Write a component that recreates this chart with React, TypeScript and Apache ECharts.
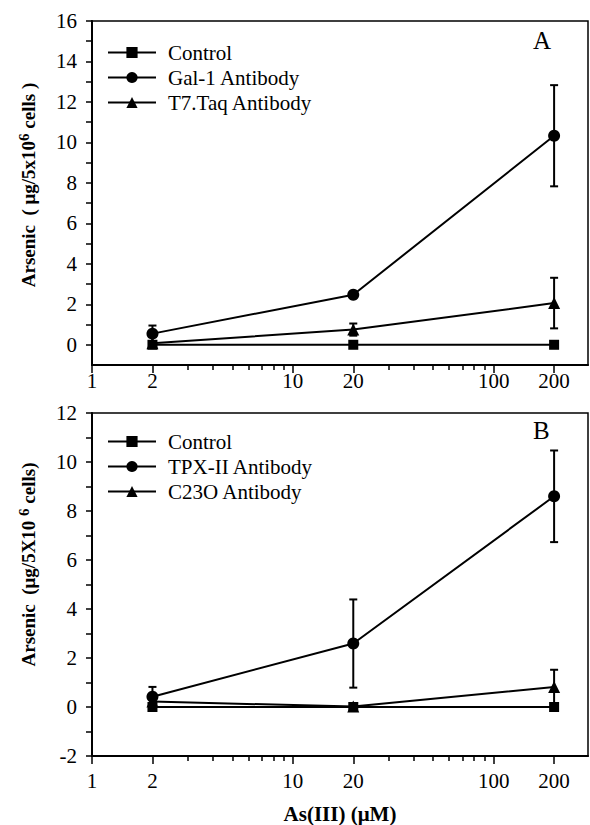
import React, { useEffect, useRef } from 'react';
import * as echarts from 'echarts';

// ---- data ----
const concentrations = [2, 20, 200];
const xTickLabels = [1, 2, 10, 20, 100, 200];
const xMajorTicks = [1, 2, 10, 20, 100, 200];
const xMinorTicks = [3, 4, 5, 6, 7, 8, 9, 30, 40, 50, 60, 70, 80, 90];

const yLabelsA = [0, 2, 4, 6, 8, 10, 12, 14, 16];
const yTicksA = [0, 1, 2, 3, 4, 5, 6, 7, 8, 9, 10, 11, 12, 13, 14, 15, 16];
const yLabelsB = [-2, 0, 2, 4, 6, 8, 10, 12];
const yTicksB = [-2, -1, 0, 1, 2, 3, 4, 5, 6, 7, 8, 9, 10, 11, 12];

const legendA = ['Control', 'Gal-1 Antibody', 'T7.Taq Antibody'];
const legendB = ['Control', 'TPX-II Antibody', 'C23O Antibody'];

const controlA = [0, 0, 0];
const gal1A = [0.55, 2.47, 10.33];
const gal1ErrA = [0.4, 0.1, 2.5];
const t7A = [0.08, 0.75, 2.06];
const t7ErrA = [0.05, 0.3, 1.25];

const controlB = [0, 0, 0];
const tpxB = [0.42, 2.59, 8.6];
const tpxErrB = [0.4, 1.8, 1.87];
const c23oB = [0.22, 0.02, 0.82];
const c23oErrB = [0.1, 0.05, 0.7];

const FONT = '"Liberation Serif", "Times New Roman", serif';

function lineSeries(name: string, values: number[], symbol: string, size: number, gi: number) {
  return {
    type: 'line',
    name,
    xAxisIndex: gi * 2,
    yAxisIndex: gi,
    data: concentrations.map((c, i) => [c, values[i]]),
    symbol,
    symbolSize: size,
    showSymbol: true,
    lineStyle: { color: '#000', width: 2 },
    itemStyle: { color: '#000' },
    z: 3,
  };
}

function errorSeries(name: string, values: number[], errs: number[], gi: number) {
  return {
    type: 'custom',
    name,
    xAxisIndex: gi * 2,
    yAxisIndex: gi,
    z: 2,
    silent: true,
    data: concentrations.map((c, i) => [c, values[i] - errs[i], values[i] + errs[i]]),
    encode: { x: 0, y: [1, 2] },
    renderItem: (params: any, api: any) => {
      const x = api.value(0);
      const lo = api.coord([x, api.value(1)]);
      const hi = api.coord([x, api.value(2)]);
      const w = 4;
      const st = { stroke: '#000', lineWidth: 2 };
      return {
        type: 'group',
        children: [
          { type: 'line', shape: { x1: lo[0], y1: lo[1], x2: hi[0], y2: hi[1] }, style: st },
          { type: 'line', shape: { x1: hi[0] - w, y1: hi[1], x2: hi[0] + w, y2: hi[1] }, style: st },
          { type: 'line', shape: { x1: lo[0] - w, y1: lo[1], x2: lo[0] + w, y2: lo[1] }, style: st },
        ],
      };
    },
  };
}

function xAxes(gi: number, withName: boolean, labelMargin: number) {
  const main: any = {
    type: 'log',
    logBase: 10,
    gridIndex: gi,
    min: 1,
    max: 295,
    position: 'bottom',
    axisLine: { show: true, onZero: false, lineStyle: { color: '#000', width: 2 } },
    axisTick: { show: true, inside: false, length: 8, lineStyle: { color: '#000', width: 1.5 }, customValues: xMajorTicks },
    axisLabel: {
      show: true,
      customValues: xTickLabels,
      formatter: (v: number) => String(Math.round(v)),
      color: '#000',
      fontSize: 21,
      fontFamily: FONT,
      margin: labelMargin,
    },
    splitLine: { show: false },
    minorTick: { show: false },
  };
  if (withName) {
    main.name = 'As(III) (μM)';
    main.nameLocation = 'middle';
    main.nameGap = 47;
    main.nameTextStyle = { color: '#000', fontSize: 21, fontWeight: 'bold', fontFamily: FONT };
  }
  const minor: any = {
    type: 'log',
    logBase: 10,
    gridIndex: gi,
    min: 1,
    max: 295,
    position: 'bottom',
    axisLine: { show: false, onZero: false },
    axisTick: { show: true, inside: false, length: 5, lineStyle: { color: '#000', width: 1.5 }, customValues: xMinorTicks },
    axisLabel: { show: false },
    splitLine: { show: false },
  };
  return [main, minor];
}

function yAxis(gi: number, min: number, max: number, labels: number[], ticks: number[], name: string, shift: number) {
  return {
    type: 'value',
    gridIndex: gi,
    min,
    max,
    axisLine: { show: true, onZero: false, lineStyle: { color: '#000', width: 2 } },
    axisTick: { show: true, inside: false, length: 6, lineStyle: { color: '#000', width: 1.5 }, customValues: ticks },
    axisLabel: { show: true, customValues: labels, color: '#000', fontSize: 21, fontFamily: FONT, margin: 15 },
    splitLine: { show: false },
    name,
    nameLocation: 'middle',
    nameGap: 52,
    nameTextStyle: {
      color: '#000',
      fontFamily: FONT,
      padding: [0, 0, 0, shift],
      rich: {
        b: { fontSize: 19, fontWeight: 'bold', fontFamily: FONT, color: '#000', lineHeight: 24 },
        s: { fontSize: 15, fontWeight: 'bold', fontFamily: FONT, color: '#000', lineHeight: 14, verticalAlign: 'top' },
      },
    },
  };
}

function legend(names: string[], top: number) {
  return {
    orient: 'vertical',
    left: 102,
    top,
    data: names,
    itemWidth: 48,
    itemHeight: 14,
    itemGap: 4,
    selectedMode: false,
    textStyle: { color: '#000', fontSize: 21, fontFamily: FONT, lineHeight: 21, padding: [0, 0, 0, 7] },
  };
}

export default function App() {
  const ref = useRef<HTMLDivElement>(null);
  useEffect(() => {
    if (!ref.current) return;
    const chart = echarts.init(ref.current, undefined, { renderer: 'svg' });
    const option: any = {
      animation: false,
      backgroundColor: '#fff',
      grid: [
        { left: 92, top: 21, width: 496, height: 344, show: true, borderColor: '#000', borderWidth: 1.5, backgroundColor: 'transparent' },
        { left: 92, top: 413, width: 496, height: 344, show: true, borderColor: '#000', borderWidth: 1.5, backgroundColor: 'transparent' },
      ],
      xAxis: [...xAxes(0, false, 5), ...xAxes(1, true, 14)],
      yAxis: [
        yAxis(0, -1, 16, yLabelsA, yTicksA, '{b|Arsenic  ( μg/5x10}{s|6}{b| cells )}', 16),
        yAxis(1, -2, 12, yLabelsB, yTicksB, '{b|Arsenic  (μg/5X10 }{s|6}{b| cells)}', 40),
      ],
      legend: [legend(legendA, 37), legend(legendB, 426)],
      graphic: [
        { type: 'text', left: 533, top: 28, style: { text: 'A', fill: '#000', fontSize: 25, fontFamily: FONT } },
        { type: 'text', left: 533, top: 418, style: { text: 'B', fill: '#000', fontSize: 25, fontFamily: FONT } },
      ],
      series: [
        errorSeries('errGal', gal1A, gal1ErrA, 0),
        errorSeries('errT7', t7A, t7ErrA, 0),
        lineSeries('Control', controlA, 'rect', 10, 0),
        lineSeries('Gal-1 Antibody', gal1A, 'circle', 12, 0),
        lineSeries('T7.Taq Antibody', t7A, 'triangle', 12, 0),
        errorSeries('errTpx', tpxB, tpxErrB, 1),
        errorSeries('errC23o', c23oB, c23oErrB, 1),
        lineSeries('Control', controlB, 'rect', 10, 1),
        lineSeries('TPX-II Antibody', tpxB, 'circle', 12, 1),
        lineSeries('C23O Antibody', c23oB, 'triangle', 12, 1),
      ],
    };
    chart.setOption(option);
    return () => chart.dispose();
  }, []);
  return <div ref={ref} style={{ position: 'absolute', left: 0, top: 0, width: 590, height: 825 }} />;
}
